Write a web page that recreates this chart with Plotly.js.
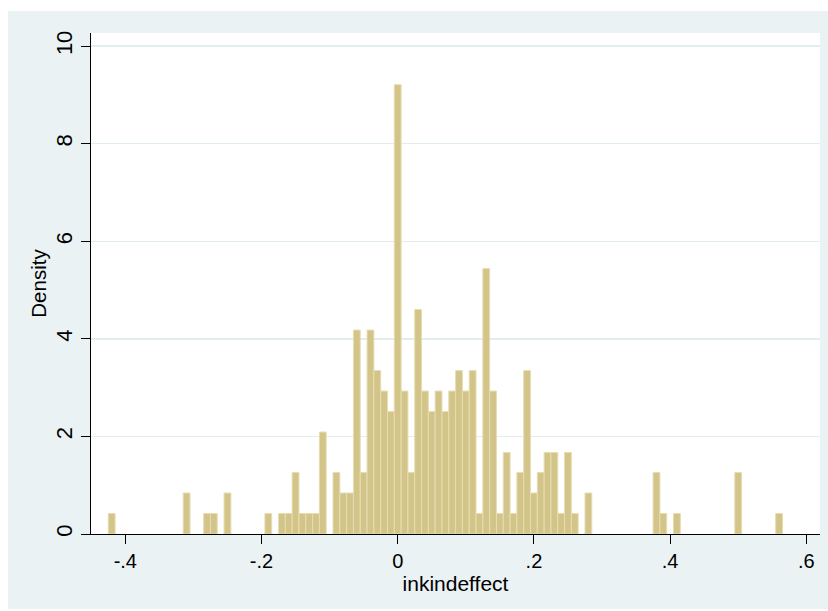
<!DOCTYPE html>
<html>
<head>
<meta charset="utf-8">
<script src="https://cdn.plot.ly/plotly-3.0.1.min.js"></script>
<style>
  html, body { margin: 0; padding: 0; background: #ffffff; width: 828px; height: 611px; overflow: hidden; }
  #chart { position: absolute; left: 8px; top: 11px; width: 820px; height: 598px; }
</style>
</head>
<body>
<div id="chart"></div>
<script>
// Histogram bins of inkindeffect (bin width 0.01), centers and densities
const binCenters = [
  -0.42, -0.31, -0.28, -0.27, -0.25, -0.19, -0.17, -0.16, -0.15, -0.14,
  -0.13, -0.12, -0.11, -0.09, -0.08, -0.07, -0.06, -0.05, -0.04, -0.03,
  -0.02, -0.01, 0.00, 0.01, 0.02, 0.03, 0.04, 0.05, 0.06, 0.07,
  0.08, 0.09, 0.10, 0.11, 0.12, 0.13, 0.14, 0.15, 0.16, 0.17,
  0.18, 0.19, 0.20, 0.21, 0.22, 0.23, 0.24, 0.25, 0.26, 0.28,
  0.38, 0.39, 0.41, 0.50, 0.56
];
const density = [
  0.42, 0.84, 0.42, 0.42, 0.84, 0.42, 0.42, 0.42, 1.26, 0.42,
  0.42, 0.42, 2.09, 1.26, 0.84, 0.84, 4.18, 1.26, 4.18, 3.35,
  2.93, 2.51, 9.21, 2.93, 1.26, 4.60, 2.93, 2.51, 2.93, 2.51,
  2.93, 3.35, 2.93, 3.35, 0.42, 5.44, 2.93, 0.42, 1.67, 0.42,
  1.26, 3.35, 0.84, 1.26, 1.67, 1.67, 0.42, 1.67, 0.42, 0.84,
  1.26, 0.42, 0.42, 1.26, 0.42
];
const binWidth = 0.01;
const xTickVals = [-0.4, -0.2, 0, 0.2, 0.4, 0.6];
const xTickText = ['-.4', '-.2', '0', '.2', '.4', '.6'];
const yTickVals = [0, 2, 4, 6, 8, 10];
const yTickText = ['0', '2', '4', '6', '8', '10'];

const font = 'Liberation Sans, Arial, sans-serif';

const trace = {
  type: 'bar',
  x: binCenters,
  y: density,
  width: binWidth,
  marker: { color: '#d3c489', line: { color: '#e6ddb0', width: 1 } },
  hoverinfo: 'x+y'
};

const layout = {
  width: 820,
  height: 598,
  margin: { l: 83, r: 8, t: 22, b: 75 },
  paper_bgcolor: '#eaf2f3',
  plot_bgcolor: '#ffffff',
  showlegend: false,
  bargap: 0,
  font: { family: font, color: '#000000', size: 20 },
  xaxis: {
    range: [-0.4504, 0.6201],
    tickvals: xTickVals,
    ticktext: xTickText,
    ticks: 'outside',
    ticklen: 9,
    tickwidth: 1,
    tickcolor: '#000000',
    showline: true,
    linecolor: '#000000',
    linewidth: 1,
    showgrid: false,
    zeroline: false,
    tickfont: { family: font, size: 20, color: '#000000' },
    title: { text: 'inkindeffect', font: { family: font, size: 21, color: '#000000' }, standoff: 2 }
  },
  yaxis: {
    range: [0, 10.27],
    tickvals: yTickVals,
    ticktext: yTickText,
    tickangle: -90,
    ticks: 'outside',
    ticklen: 9,
    tickwidth: 1,
    tickcolor: '#000000',
    showline: true,
    linecolor: '#000000',
    linewidth: 1,
    showgrid: true,
    gridcolor: '#e1edef',
    gridwidth: 1.5,
    zeroline: false,
    tickfont: { family: font, size: 22, color: '#000000' },
    title: { text: 'Density', font: { family: font, size: 20.5, color: '#000000' }, standoff: 0 }
  }
};

Plotly.newPlot('chart', [trace], layout, { displayModeBar: false, staticPlot: true });
</script>
</body>
</html>
